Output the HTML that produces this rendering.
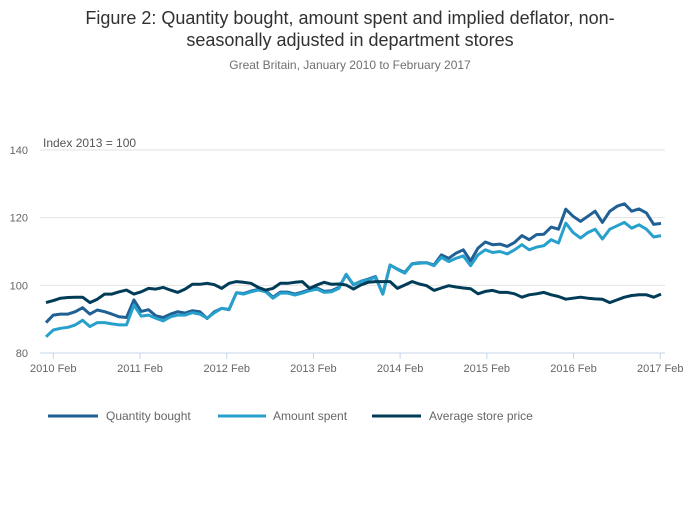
<!DOCTYPE html>
<html><head><meta charset="utf-8"><style>
body{margin:0;background:#fff;font-family:"Liberation Sans",sans-serif;}
svg text{font-family:"Liberation Sans",sans-serif;}
</style></head><body>
<svg id="chart" width="700" height="502" viewBox="0 0 700 502">
<text x="350" y="24" text-anchor="middle" font-size="18" fill="#323132">Figure 2: Quantity bought, amount spent and implied deflator, non-</text>
<text x="350" y="46" text-anchor="middle" font-size="18" fill="#323132">seasonally adjusted in department stores</text>
<text x="350" y="69" text-anchor="middle" font-size="12" fill="#707070">Great Britain, January 2010 to February 2017</text>
<text x="43" y="147" font-size="12" fill="#555">Index 2013 = 100</text>
<g id="grid"></g><g id="xaxis"></g><g id="series"></g>
<g>
<line x1="48" y1="416" x2="98" y2="416" stroke="#206095" stroke-width="3"/>
<text x="106" y="420" font-size="12" fill="#666">Quantity bought</text>
<line x1="218" y1="416" x2="266" y2="416" stroke="#27a0cc" stroke-width="3"/>
<text x="273" y="420" font-size="12" fill="#666">Amount spent</text>
<line x1="372" y1="416" x2="421" y2="416" stroke="#003c57" stroke-width="3"/>
<text x="429" y="420" font-size="12" fill="#666">Average store price</text>
</g>
</svg>
<script>
const yTicks=[80,100,120,140];
const xTickLabels=["2010 Feb","2011 Feb","2012 Feb","2013 Feb","2014 Feb","2015 Feb","2016 Feb","2017 Feb"];
const quantity=[89,91.2,91.5,91.5,92.2,93.4,91.5,92.7,92.2,91.5,90.7,90.5,95.7,92.3,92.8,91,90.5,91.5,92.2,91.8,92.5,92.2,90.2,92.2,93.2,92.8,97.8,
97.6,98.3,98.8,98.4,96.5,98,98,97.4,98,98.7,99.2,98.2,98.4,99.4,103.1,100.2,101.2,101.8,102.6,97.4,106,104.8,103.8,106.4,106.7,
106.7,106,109,108,109.5,110.5,107.2,111,112.8,112,112.2,111.5,112.7,114.7,113.5,115,115.1,117.2,116.6,122.5,120.4,118.9,120.4,121.9,118.6,121.9,123.4,124.1,121.9,122.6,121.4,118,118.3];
const amount=[84.8,86.8,87.3,87.6,88.3,89.7,87.8,89,89,88.6,88.3,88.3,94.2,90.9,91.2,90.3,89.5,90.7,91.2,91.2,91.9,91.5,90.3,91.9,93.2,92.9,97.8,
97.4,98.1,98.6,98.1,96.2,97.7,97.7,97.1,97.7,98.4,98.9,97.9,98.1,99.1,103.3,100.1,101.1,101.6,102.4,97.4,106,104.7,103.6,106.3,106.5,
106.7,105.8,108.3,107,108,108.7,105.8,109,110.5,109.7,110,109.3,110.5,112,110.5,111.3,111.7,113.5,112.5,118.4,115.6,114,115.6,116.6,113.7,116.6,117.6,118.6,116.9,117.9,116.6,114.3,114.7];
const price=[94.9,95.5,96.2,96.4,96.5,96.5,94.9,95.9,97.4,97.4,98.1,98.6,97.4,98.1,99.1,98.9,99.4,98.6,97.9,98.9,100.3,100.3,100.6,100.2,99.1,100.6,101.1,
100.9,100.6,99.4,98.6,99.1,100.6,100.6,100.9,101.1,99.1,100.1,100.9,100.3,100.4,100.1,98.9,100.1,100.9,101.1,101.1,101.1,99.1,100.1,101.1,100.4,
99.9,98.5,99.2,99.9,99.5,99.2,99,97.5,98.2,98.5,97.9,97.9,97.5,96.5,97.2,97.5,97.9,97.2,96.7,95.9,96.2,96.5,96.2,96,95.9,94.9,95.7,96.5,97,97.2,97.2,96.5,97.4];
const NS="http://www.w3.org/2000/svg";
function y(v){return 353-(v-80)*(203/60);}
function x(i,n){return 46+i*(615/(n-1));}
function tickX(k){return 53.3+k*86.7;}
const grid=document.getElementById('grid');
yTicks.forEach(t=>{
 const l=document.createElementNS(NS,'line');
 
 
 l.setAttribute('x1',40);l.setAttribute('x2',665);l.setAttribute('y1',y(t));l.setAttribute('y2',y(t));
 l.setAttribute('stroke',t===80?'#c6d5e8':'#e2e2e2');l.setAttribute('stroke-width',1);
 grid.appendChild(l);
 const tx=document.createElementNS(NS,'text');
 
 
 tx.setAttribute('x',28);tx.setAttribute('y',y(t)+4);tx.setAttribute('text-anchor','end');
 tx.setAttribute('font-size','11');tx.setAttribute('fill','#666');tx.textContent=t;
 grid.appendChild(tx);
});
const xa=document.getElementById('xaxis');
xTickLabels.forEach((lab,k)=>{
 const l=document.createElementNS(NS,'line');
 
 
 l.setAttribute('x1',tickX(k));l.setAttribute('x2',tickX(k));l.setAttribute('y1',353);l.setAttribute('y2',359);
 l.setAttribute('stroke','#c6d5e8');xa.appendChild(l);
 const tx=document.createElementNS(NS,'text');
 
 
 tx.setAttribute('x',tickX(k));tx.setAttribute('y',372);tx.setAttribute('text-anchor','middle');
 tx.setAttribute('font-size','11');tx.setAttribute('fill','#666');tx.textContent=lab;
 xa.appendChild(tx);
});
const ser=document.getElementById('series');
[[quantity,'#206095','quantity-bought-line'],[amount,'#27a0cc','amount-spent-line'],[price,'#003c57','average-store-price-line']].forEach(([d,c,name])=>{
 const p=document.createElementNS(NS,'path');
 
 
 p.setAttribute('d',d.map((v,i)=>(i?'L':'M')+x(i,d.length).toFixed(1)+','+y(v).toFixed(1)).join(''));
 p.setAttribute('fill','none');p.setAttribute('stroke',c);p.setAttribute('stroke-width',3);p.setAttribute('stroke-linejoin','round');
 ser.appendChild(p);
});
</script>
</body></html>
